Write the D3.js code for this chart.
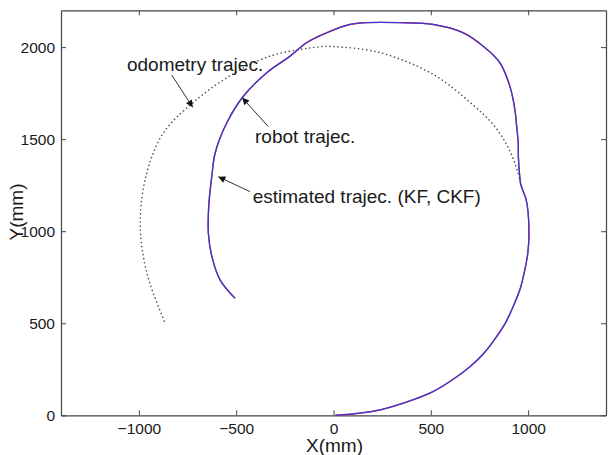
<!DOCTYPE html>
<html>
<head>
<meta charset="utf-8">
<script src="https://cdn.jsdelivr.net/npm/d3@7"></script>
<style>
  body { margin: 0; background: #fff; }
  text { font-family: "Liberation Sans", Arial, sans-serif; fill: #1a1a1a; }
</style>
</head>
<body>
<div id="chart"></div>
<script>
var w = 610, h = 455;

// axis setup
var xDomain = [-1400, 1400], yDomain = [0, 2200];
var xTicks = [-1000, -500, 0, 500, 1000];
var yTicks = [0, 500, 1000, 1500, 2000];

// robot trajectory (estimated KF/CKF sits right on top of it)
var robotX = [10, 120, 239, 370, 495, 600, 701, 775, 838, 885, 923, 960, 983, 998, 1004, 1000, 990, 975, 962, 955, 950, 949, 940, 932, 906, 855, 769, 666, 512, 341, 170, 85, -35, -138, -223, -343, -463, -548, -608, -625, -640, -643, -625, -583, -506];
var robotY = [0, 10, 29, 70, 120, 185, 264, 340, 428, 505, 591, 690, 790, 880, 972, 1099, 1170, 1215, 1255, 1320, 1400, 1480, 1580, 1661, 1788, 1915, 2005, 2078, 2123, 2133, 2133, 2123, 2078, 2024, 1951, 1861, 1733, 1589, 1425, 1300, 1150, 990, 863, 736, 636];

// odometry trajectory (dotted)
var odoX = [960, 935, 890, 820, 718, 512, 239, 0, -69, -326, -531, -720, -874, -959, -993, -959, -865];
var odoY = [1270, 1360, 1470, 1580, 1685, 1852, 1970, 2003, 2002, 1951, 1845, 1700, 1534, 1317, 1045, 773, 500];

// annotations: label, text pos, arrow start, arrow tip (data units)
var noteText = ["odometry trajec.", "robot trajec.", "estimated trajec. (KF, CKF)"];
var noteAt = [[-1061, 1870], [-403, 1479], [-415, 1155]];
var noteFrom = [[-831, 1848], [-335, 1568], [-429, 1215]];
var noteTo = [[-723, 1673], [-469, 1725], [-592, 1296]];

var svg = d3.select("#chart").append("svg")
    .attr("width", w).attr("height", h);

var padL = 61, padR = 606, padT = 10.3, padB = 415.3;

var x = d3.scaleLinear().domain(xDomain).range([padL, padR]);
var y = d3.scaleLinear().domain(yDomain).range([padB, padT]);

svg.append("defs").append("marker")
    .attr("id", "head")
    .attr("viewBox", "0 0 10 10")
    .attr("refX", 10).attr("refY", 5)
    .attr("markerWidth", 9).attr("markerHeight", 7)
    .attr("markerUnits", "userSpaceOnUse")
    .attr("orient", "auto")
    .append("path").attr("d", "M0,0L10,5L0,10z").attr("fill", "#111");

// axes, ticks point inward like matlab
var axisColor = "#444";
var fmt = d3.format("d");
function styleAxis(g) {
    g.select(".domain").attr("stroke", axisColor).attr("stroke-width", 1.2);
    g.selectAll(".tick line").attr("stroke", axisColor);
    g.selectAll("text").attr("fill", "#1a1a1a").style("font-size", "15.5px")
        .style("font-family", "Liberation Sans, Arial, sans-serif");
}

svg.append("g").attr("transform", "translate(0," + padB + ")")
    .call(d3.axisBottom(x).tickValues(xTicks).tickFormat(fmt).tickSizeInner(-5).tickSizeOuter(0).tickPadding(8))
    .call(styleAxis);
svg.append("g").attr("transform", "translate(0," + padT + ")")
    .call(d3.axisTop(x).tickValues(xTicks).tickSizeInner(-5).tickSizeOuter(0).tickFormat(""))
    .call(styleAxis);
svg.append("g").attr("transform", "translate(" + padL + ",0)")
    .call(d3.axisLeft(y).tickValues(yTicks).tickFormat(fmt).tickSizeInner(-5).tickSizeOuter(0).tickPadding(6))
    .call(styleAxis);
svg.append("g").attr("transform", "translate(" + padR + ",0)")
    .call(d3.axisRight(y).tickValues(yTicks).tickSizeInner(-5).tickSizeOuter(0).tickFormat(""))
    .call(styleAxis);

var line = d3.line().x(d => x(d[0])).y(d => y(d[1])).curve(d3.curveCatmullRom);

var odo = odoX.map((v, i) => [v, odoY[i]]);
var robot = robotX.map((v, i) => [v, robotY[i]]);

svg.append("path").datum(odo)
    .attr("d", line)
    .attr("fill", "none")
    .attr("stroke", "#555")
    .attr("stroke-width", 1.6)
    .attr("stroke-linecap", "round")
    .attr("stroke-dasharray", "0.1,4");

// estimated (red) underneath, robot (blue) on top
svg.append("path").datum(robot)
    .attr("d", line)
    .attr("fill", "none")
    .attr("stroke", "#c8303a")
    .attr("stroke-width", 1.4);
svg.append("path").datum(robot)
    .attr("d", line)
    .attr("fill", "none")
    .attr("stroke", "#4036d8")
    .attr("stroke-width", 1.3);

// annotation arrows + labels
noteText.forEach(function (t, i) {
    svg.append("line")
        .attr("x1", x(noteFrom[i][0])).attr("y1", y(noteFrom[i][1]))
        .attr("x2", x(noteTo[i][0])).attr("y2", y(noteTo[i][1]))
        .attr("stroke", "#333").attr("stroke-width", 1)
        .attr("marker-end", "url(#head)");
    svg.append("text")
        .attr("x", x(noteAt[i][0])).attr("y", y(noteAt[i][1]))
        .style("font-size", "19px")
        .text(t);
});

svg.append("text")
    .attr("x", (padL + padR) / 2 + 1).attr("y", 452)
    .attr("text-anchor", "middle")
    .style("font-size", "19px")
    .text("X(mm)");

svg.append("text")
    .attr("transform", "translate(23,212) rotate(-90)")
    .attr("text-anchor", "middle")
    .style("font-size", "19px")
    .text("Y(mm)");
</script>
</body>
</html>
